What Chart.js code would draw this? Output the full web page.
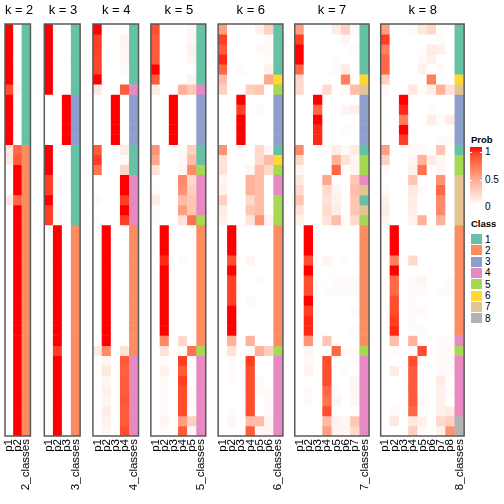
<!DOCTYPE html>
<html>
<head>
<meta charset="utf-8">
<script src="https://cdn.jsdelivr.net/npm/chart.js@4/dist/chart.umd.min.js"></script>
<style>
  body { margin: 0; width: 504px; height: 504px; position: relative; overflow: hidden; background: #fff;
         font-family: "Liberation Sans", Arial, sans-serif; }
  .panel { position: absolute; top: 0; }
  .lg { position: absolute; font-size: 10px; color: #000; line-height: 1; }
  .lg-title { position: absolute; font-size: 9.5px; font-weight: bold; line-height: 1; }
  .sw { position: absolute; width: 11px; height: 10px; }
</style>
</head>
<body>
<div id="legend"></div>
<script>
// membership probabilities per k (rows = samples, cols = p1..pk)
const probK2 = [
  [1,0],[1,0],[1,0],[1,0],[1,0],[1,0],[0.85,0.05],[1,0],[1,0],[1,0],[1,0],[1,0],
  [0.12,0.75],[0.12,0.8],[0,1],[0,1],[0,1],[0.12,0.75],[0,1],[0,1],
  [0,1],[0,1],[0,1],[0,1],[0,1],[0,1],[0,1],[0,1],[0,1],[0,1],
  [0,1],[0,1],[0,1],[0,1],[0,1],[0,1],[0,1],[0,1],[0,1],[0,1],[0,1]
];
const probK3 = [
  [1,0,0],[1,0,0],[1,0,0],[1,0,0],[1,0,0],[1,0,0],[1,0,0],
  [0,0,1],[0,0,1],[0,0,1],[0,0,1],[0,0,1],
  [1,0,0],[1,0,0],[1,0,0],[0.9,0.03,0],[0.9,0.03,0],[1,0,0],[0.9,0.03,0],[0.9,0.03,0],
  [0,1,0],[0,1,0],[0,1,0],[0,1,0],[0,1,0],[0,1,0],[0,1,0],[0,1,0],[0,1,0],[0,1,0],
  [0,1,0],[0,1,0],[0.03,0.9,0],[0,1,0],[0,1,0],[0,1,0],[0,1,0],[0,1,0],[0,1,0],[0,1,0],[0,1,0]
];
const probK4 = [
  [1,0,0,0],[0.9,0,0,0.05],[0.9,0,0,0.05],[0.88,0,0,0.04],[0.88,0,0,0.03],[1,0,0,0],
  [0.12,0,0,0.8],
  [0,0,1,0],[0,0,1,0],[0,0,1,0],[0,0,1,0],[0,0,1,0],
  [0.8,0,0,0.1],[0.9,0,0,0.03],[0.7,0,0,0.22],
  [0,0,0,1],[0,0,0,1],[0.03,0,0,0.9],[0,0,0,1],[0.02,0,0,0.9],
  [0,1,0,0],[0,1,0,0],[0,1,0,0],[0,1,0,0],[0,1,0,0],[0,1,0,0],[0,1,0,0],[0,1,0,0],
  [0,1,0,0],[0,1,0,0],[0,1,0,0],[0,1,0,0],[0.1,0.6,0,0.15],
  [0,0.06,0,0.8],[0,0.12,0,0.78],[0,0.05,0,0.8],[0,0.08,0,0.8],[0,0.05,0,0.82],
  [0,0.1,0,0.8],[0,0.07,0,0.8],[0,0.05,0,0.85]
];
const probK5 = [
  [0.85,0,0,0,0.05],[0.8,0,0,0,0.05],[0.8,0,0,0,0.08],[0.8,0,0,0,0.05],[1,0,0,0,0],[0.8,0,0,0,0.06],
  [0.1,0,0,0.4,0.3],
  [0,0,1,0,0],[0,0,1,0,0],[0,0,1,0,0],[0,0,1,0,0],[0,0,1,0,0],
  [0.55,0,0,0.03,0.25],[0.45,0,0,0.03,0.35],[0.15,0,0,0.05,0.6],
  [0,0,0,0.6,0.2],[0.02,0,0,0.55,0.25],[0.1,0,0,0.35,0.3],[0.02,0,0,0.5,0.3],[0.02,0,0,0.15,0.7],
  [0,1,0,0,0],[0,1,0,0,0],[0,1,0,0,0],[0,0.95,0,0.02,0],[0,1,0,0,0],[0,1,0,0,0],[0,1,0,0,0],
  [0,1,0,0,0],[0,1,0,0,0],[0,1,0,0,0],[0,1,0,0,0],[0,0.6,0,0.2,0],[0,0.15,0,0.03,0.7],
  [0,0.02,0,0.9,0],[0,0.07,0,0.8,0],[0,0.02,0,0.9,0],[0,0.02,0,0.85,0.02],[0,0.02,0,0.85,0.03],
  [0,0.02,0,0.85,0],[0,0.05,0,0.5,0.25],[0,0.02,0,0.8,0.05]
];
const probK6 = [
  [0.5,0,0,0,0.07,0.25],[0.9,0,0,0,0,0.02],[0.8,0,0,0,0.03,0.03],[0.95,0,0,0,0,0.01],[0.75,0,0.02,0,0,0.07],
  [0.35,0,0,0,0,0.45],[0.25,0,0,0.25,0.3,0],
  [0,0,1,0,0,0],[0,0,0.9,0,0.02,0],[0,0,1,0,0,0],[0,0,1,0,0,0],[0,0,1,0,0,0],
  [0.55,0,0,0,0.2,0.05],[0.15,0,0,0,0.2,0.35],[0.15,0,0,0.05,0.35,0.2],
  [0.05,0,0,0.4,0.35,0],[0.07,0,0,0.4,0.35,0],[0.25,0,0,0.2,0.35,0],[0.1,0,0,0.3,0.35,0],[0.07,0,0,0.15,0.55,0.05],
  [0,1,0,0,0,0],[0,1,0,0,0,0],[0,1,0,0,0,0],[0,0.85,0,0.06,0,0],[0,1,0,0,0,0],[0,0.9,0,0,0.02,0],
  [0,0.9,0,0,0,0],[0,0.9,0,0.03,0,0],[0,1,0,0,0,0],[0,1,0,0,0,0],[0,1,0,0,0,0],
  [0,0.4,0,0.4,0,0],[0,0.15,0,0.02,0.4,0.25],
  [0,0.02,0,0.9,0,0],[0,0.02,0,0.85,0,0],[0,0.02,0,0.85,0.02,0],[0,0,0,0.85,0.03,0.02],
  [0,0,0,0.85,0,0.03],[0,0.02,0,0.85,0,0.03],[0,0.05,0,0.35,0.35,0.05],[0,0,0,0.8,0.05,0.05]
];
const probK7 = [
  [0.5,0,0,0,0.1,0.25,0.03],[0.9,0,0,0,0,0.05,0],[1,0,0,0,0,0,0.02],[1,0,0,0,0.02,0,0],[0.75,0,0,0,0.03,0.1,0],
  [0.2,0,0,0,0,0.65,0],[0.2,0,0,0.2,0,0.03,0.35],
  [0,0,1,0,0,0,0],[0,0,0.75,0,0,0.05,0.08],[0,0,1,0,0,0,0],[0,0,0.95,0,0,0.02,0],[0,0,0.95,0,0,0,0],
  [0.6,0,0,0.02,0.1,0.03,0.1],[0.2,0,0,0,0.4,0.15,0.05],[0.05,0,0,0,0.75,0,0.05],
  [0.12,0,0,0.45,0,0,0.3],[0.2,0,0,0.2,0.05,0,0.35],[0.3,0,0,0.15,0.07,0,0.3],[0.15,0,0,0.2,0.1,0,0.3],
  [0.08,0,0,0.15,0.35,0.02,0.2],
  [0,1,0,0,0,0,0],[0,1,0,0,0,0,0],[0,1,0,0,0,0,0],[0,0.85,0,0.06,0,0.02,0],[0,1,0,0,0,0,0],
  [0,0.85,0,0,0.02,0.02,0.02],[0,0.85,0,0.02,0.02,0.02,0.03],[0,1,0,0,0,0,0],[0,0.9,0,0,0,0,0.02],
  [0,0.95,0,0,0,0,0],[0,0.95,0,0,0,0,0.02],[0,0.55,0,0.3,0,0,0],[0,0.05,0,0,0.75,0.02,0.03],
  [0,0.03,0,0.85,0,0,0.02],[0,0.06,0,0.85,0,0.02,0],[0,0,0,0.85,0,0,0.05],[0,0.03,0,0.75,0.02,0,0.05],
  [0,0.03,0,0.7,0.05,0,0.05],[0,0,0,0.85,0,0,0],[0,0,0,0.35,0.07,0.05,0.3],[0,0,0,0.5,0.05,0.05,0.2]
];
const probK8 = [
  [0.5,0,0,0.02,0.12,0.2,0,0],[0.9,0,0,0,0,0,0.02,0],[0.65,0,0,0,0,0.1,0.08,0],[0.75,0,0,0,0.03,0.08,0,0],
  [0.75,0,0,0,0.07,0,0.02,0],[0.25,0,0,0,0,0.65,0,0],[0.03,0,0,0.12,0.02,0.1,0.4,0.15],
  [0,0,1,0,0,0,0,0],[0,0,0.95,0,0,0.02,0,0],[0,0,0.65,0,0,0.1,0.02,0.1],[0,0,1,0,0,0,0,0],[0,0,0.9,0,0,0,0.02,0.02],
  [0.5,0,0,0.03,0.03,0,0.3,0],[0.25,0,0,0.05,0.4,0.1,0.05,0],[0.03,0,0,0.07,0.7,0,0.05,0],
  [0,0,0,0.3,0,0,0.55,0],[0.03,0,0,0.12,0.02,0,0.75,0],[0.07,0,0,0.1,0,0,0.6,0],[0.1,0,0,0.1,0,0,0.6,0],
  [0.06,0,0,0.06,0.4,0,0.4,0],
  [0,1,0,0,0,0,0,0],[0,1,0,0,0,0,0,0],[0,1,0,0,0,0,0,0],[0,0.65,0,0.2,0,0,0,0],[0,1,0,0,0,0,0,0],
  [0,0.75,0,0.03,0.05,0,0,0.02],[0,0.75,0,0.03,0.03,0,0.02,0.02],[0,0.85,0,0.02,0,0,0,0],
  [0,0.85,0,0.03,0.03,0,0,0],[0,0.9,0,0.02,0,0,0,0],[0,0.95,0,0.02,0.02,0,0,0],
  [0,0.35,0,0.4,0,0,0.02,0.02],[0,0.03,0,0.02,0.85,0,0.03,0.03],
  [0,0,0,0.85,0.02,0,0.03,0.03],[0,0.1,0,0.8,0,0,0.03,0.03],[0,0,0,0.8,0,0,0.1,0],[0,0,0,0.8,0,0,0.07,0.02],
  [0,0,0,0.8,0.03,0,0.07,0],[0,0.03,0,0.75,0,0,0.07,0.1],[0,0.12,0,0.12,0.08,0,0.2,0.25],[0,0,0,0.25,0.02,0,0.07,0.55]
];

// predicted class per sample
const classK2 = [1,1,1,1,1,1,1,1,1,1,1,1,2,2,2,2,2,2,2,2,2,2,2,2,2,2,2,2,2,2,2,2,2,2,2,2,2,2,2,2,2];
const classK3 = [1,1,1,1,1,1,1,3,3,3,3,3,1,1,1,1,1,1,1,1,2,2,2,2,2,2,2,2,2,2,2,2,2,2,2,2,2,2,2,2,2];
const classK4 = [1,1,1,1,1,1,4,3,3,3,3,3,1,1,1,4,4,4,4,4,2,2,2,2,2,2,2,2,2,2,2,2,2,4,4,4,4,4,4,4,4];
const classK5 = [1,1,1,1,1,1,4,3,3,3,3,3,1,1,5,4,4,4,4,5,2,2,2,2,2,2,2,2,2,2,2,2,5,4,4,4,4,4,4,4,4];
const classK6 = [1,1,1,1,1,6,5,3,3,3,3,3,1,6,5,4,4,5,5,5,2,2,2,2,2,2,2,2,2,2,2,2,5,4,4,4,4,4,4,4,4];
const classK7 = [1,1,1,1,1,6,7,3,3,3,3,3,1,5,5,4,7,1,7,5,2,2,2,2,2,2,2,2,2,2,2,2,5,4,4,4,4,4,4,4,4];
const classK8 = [1,1,1,1,1,6,7,3,3,3,3,3,1,5,5,7,7,7,7,7,2,2,2,2,2,2,2,2,2,2,2,4,5,4,4,4,4,4,4,8,8];

const panelKs = [2, 3, 4, 5, 6, 7, 8];
const panelProbs = [probK2, probK3, probK4, probK5, probK6, probK7, probK8];
const panelClasses = [classK2, classK3, classK4, classK5, classK6, classK7, classK8];

const classLabels = ["1", "2", "3", "4", "5", "6", "7", "8"];
const classColors = ["#66C2A5", "#FC8D62", "#8DA0CB", "#E78AC3", "#A6D854", "#FFD92F", "#E5C494", "#B3B3B3"];
const probTicks = [1, 0.5, 0];

// white -> red, interpolated in LAB like colorRamp2
function toLin(c) { c /= 255; return c <= 0.04045 ? c / 12.92 : Math.pow((c + 0.055) / 1.055, 2.4); }
function fromLin(c) { c = c <= 0.0031308 ? 12.92 * c : 1.055 * Math.pow(c, 1 / 2.4) - 0.055; return Math.round(Math.max(0, Math.min(1, c)) * 255); }
function rgbToLab(r, g, b) {
  r = toLin(r); g = toLin(g); b = toLin(b);
  let x = (0.4124 * r + 0.3576 * g + 0.1805 * b) / 0.95047;
  let y = (0.2126 * r + 0.7152 * g + 0.0722 * b);
  let z = (0.0193 * r + 0.1192 * g + 0.9505 * b) / 1.08883;
  const f = t => t > 0.008856 ? Math.cbrt(t) : 7.787 * t + 16 / 116;
  x = f(x); y = f(y); z = f(z);
  return [116 * y - 16, 500 * (x - y), 200 * (y - z)];
}
function labToRgb(L, a, b) {
  const fy = (L + 16) / 116, fx = fy + a / 500, fz = fy - b / 200;
  const g = t => t * t * t > 0.008856 ? t * t * t : (t - 16 / 116) / 7.787;
  const x = g(fx) * 0.95047, y = g(fy), z = g(fz) * 1.08883;
  const r = 3.2406 * x - 1.5372 * y - 0.4986 * z;
  const gg = -0.9689 * x + 1.8758 * y + 0.0415 * z;
  const bb = 0.0557 * x - 0.2040 * y + 1.0570 * z;
  return [fromLin(r), fromLin(gg), fromLin(bb)];
}
const labWhite = rgbToLab(255, 255, 255);
const labRed = rgbToLab(255, 0, 0);
function probColor(p) {
  const L = labWhite[0] + (labRed[0] - labWhite[0]) * p;
  const a = labWhite[1] + (labRed[1] - labWhite[1]) * p;
  const b = labWhite[2] + (labRed[2] - labWhite[2]) * p;
  const c = labToRgb(L, a, b);
  return "rgb(" + c[0] + "," + c[1] + "," + c[2] + ")";
}

const COL_W = 9.33;
const GAP = 11.3;
const TOP = 24;
const BOTTOM = 436;
const PAD = 12;

// border round each heatmap body
const borderPlugin = {
  id: "hmBorder",
  afterDatasetsDraw(chart) {
    const a = chart.chartArea;
    const ctx = chart.ctx;
    ctx.save();
    ctx.strokeStyle = "#5a5a5a";
    ctx.lineWidth = 1.5;
    ctx.strokeRect(a.left, a.top, a.right - a.left, a.bottom - a.top);
    ctx.restore();
  }
};

let x0 = 5;
panelKs.forEach((k, idx) => {
  const probs = panelProbs[idx];
  const classes = panelClasses[idx];
  const labels = [];
  for (let j = 1; j <= k; j++) labels.push("p" + j);
  labels.push(k + "_classes");

  const bodyW = (k + 1) * COL_W;
  // extra left padding so the title centres over the p columns
  const padL = PAD + COL_W, padR = PAD;
  const left = Math.floor(x0 - padL);
  const realPadL = x0 - left;
  const cw = Math.ceil(realPadL + bodyW + padR);

  const canvas = document.createElement("canvas");
  canvas.className = "panel";
  canvas.width = cw;
  canvas.height = 504;
  canvas.style.left = left + "px";
  canvas.style.width = cw + "px";
  canvas.style.height = "504px";
  document.body.appendChild(canvas);

  const datasets = probs.map((row, i) => ({
    data: labels.map(() => [i, i + 1]),
    backgroundColor: row.map(probColor).concat(classColors[classes[i] - 1]),
    borderWidth: 0,
    barPercentage: 1,
    categoryPercentage: 1
  }));

  new Chart(canvas, {
    type: "bar",
    data: { labels: labels, datasets: datasets },
    options: {
      responsive: false,
      animation: false,
      devicePixelRatio: 1,
      layout: { padding: { left: realPadL, right: cw - realPadL - bodyW, top: 0, bottom: 0 } },
      plugins: {
        legend: { display: false },
        tooltip: { enabled: false },
        title: {
          display: true,
          text: "k = " + k,
          color: "#000",
          font: { family: "Liberation Sans", size: 13, weight: "normal", lineHeight: 1.2 },
          padding: { top: 3, bottom: TOP - 3 - 15.6 }
        }
      },
      scales: {
        x: {
          stacked: true,
          grid: { display: false, drawTicks: false },
          border: { display: false },
          ticks: {
            color: "#000",
            font: { family: "Liberation Sans", size: 11.5 },
            minRotation: 90,
            maxRotation: 90,
            autoSkip: false,
            padding: 3
          },
          afterFit(scale) { scale.height = 504 - BOTTOM; }
        },
        y: {
          display: false,
          reverse: true,
          min: 0,
          max: probs.length
        }
      }
    },
    plugins: [borderPlugin]
  });

  x0 += bodyW + GAP;
});

// legends
const lg = document.getElementById("legend");
function addDiv(cls, html, styles) {
  const d = document.createElement("div");
  d.className = cls;
  d.innerHTML = html;
  Object.assign(d.style, styles);
  lg.appendChild(d);
  return d;
}
addDiv("lg-title", "Prob", { left: "471px", top: "135px" });
const stops = [];
for (let s = 0; s <= 10; s++) stops.push(probColor(1 - s / 10) + " " + (s * 10) + "%");
addDiv("sw", "", { left: "470px", top: "147px", width: "12px", height: "58px",
  background: "linear-gradient(to bottom, " + stops.join(", ") + ")" });
const tickY = [152, 180, 207];
probTicks.forEach((t, i) => {
  addDiv("lg", String(t), { left: "485px", top: (tickY[i] - 5) + "px" });
  addDiv("sw", "", { left: "470px", top: Math.min(tickY[i], 204) + "px", width: "2px", height: "1px", background: "#fff" });
  addDiv("sw", "", { left: "480px", top: Math.min(tickY[i], 204) + "px", width: "2px", height: "1px", background: "#fff" });
});
addDiv("lg-title", "Class", { left: "471px", top: "219px" });
classLabels.forEach((lab, i) => {
  const top = 234 + i * 11.3;
  addDiv("sw", "", { left: "471px", top: top + "px", background: classColors[i] });
  addDiv("lg", lab, { left: "485px", top: (top + 0.5) + "px" });
});
</script>
</body>
</html>
